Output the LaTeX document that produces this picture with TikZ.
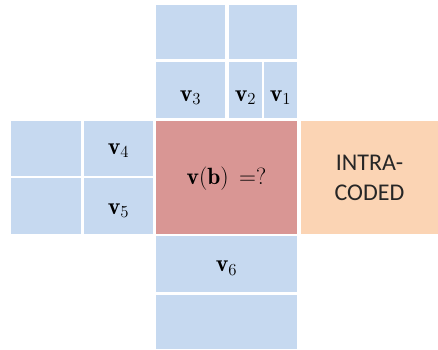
\RequirePackage{fix-cm}
\documentclass[tikz,border=0pt]{standalone}
\usepackage{amsmath}
\usepackage{fontspec}
\newfontfamily\cellsans{Carlito}
\usepackage{tikz}
\definecolor{cellBlue}{RGB}{198,217,240}
\definecolor{cellRed}{RGB}{217,150,148}
\definecolor{cellOrange}{RGB}{251,212,180}
\definecolor{cellText}{RGB}{38,38,38}

\begin{document}
\begin{tikzpicture}[x=1pt,y=-1pt,
  blk/.style={fill=cellBlue, inner sep=0pt, text=black, text depth=0pt,
    font=\fontsize{24}{28}\selectfont},
  cur/.style={blk, fill=cellRed, font=\fontsize{23.5}{28}\selectfont},
  intra/.style={fill=cellOrange, inner sep=0pt, text=cellText, align=center,
    font=\cellsans\fontsize{24}{30}\selectfont}]
\useasboundingbox (0,0) rectangle (438,349);
% top two rows
\node[blk, minimum width=69pt, minimum height=54pt] (t1) at (190.5,32) {};
\node[blk, minimum width=68pt, minimum height=54pt] (t2) at (263,32) {};
\node[blk, minimum width=69pt, minimum height=56pt, text height=22pt] (v3) at (190.5,90) {$\mathbf{v}_3$};
\node[blk, minimum width=33pt, minimum height=56pt, text height=22pt] (v2) at (245.5,90) {$\mathbf{v}_2$};
\node[blk, minimum width=33pt, minimum height=56pt, text height=22pt] (v1) at (280.5,90) {$\mathbf{v}_1$};
% left columns
\node[blk, minimum width=70pt, minimum height=55pt] (l1) at (46,148.5) {};
\node[blk, minimum width=69pt, minimum height=55pt, text height=11pt] (v4) at (118.5,148.5) {$\mathbf{v}_4$};
\node[blk, minimum width=70pt, minimum height=56pt] (l2) at (46,206) {};
\node[blk, minimum width=69pt, minimum height=56pt, text height=16pt] (v5) at (118.5,206) {$\mathbf{v}_5$};
% current block and intra-coded neighbour
\node[cur, minimum width=141pt, minimum height=113pt, text height=14pt] (vb) at (226.5,177.5)
  {$\mathbf{v}(\mathbf{b})\;\,{=}$?};
\node[intra, minimum width=137pt, minimum height=113pt] (ic) at (369.5,177.5)
  {INTRA-\\CODED};
% bottom rows
\node[blk, minimum width=141pt, minimum height=56pt, text height=15.5pt] (v6) at (226.5,264) {$\mathbf{v}_6$};
\node[blk, minimum width=141pt, minimum height=54pt] (b1) at (226.5,322) {};
\end{tikzpicture}
\end{document}
